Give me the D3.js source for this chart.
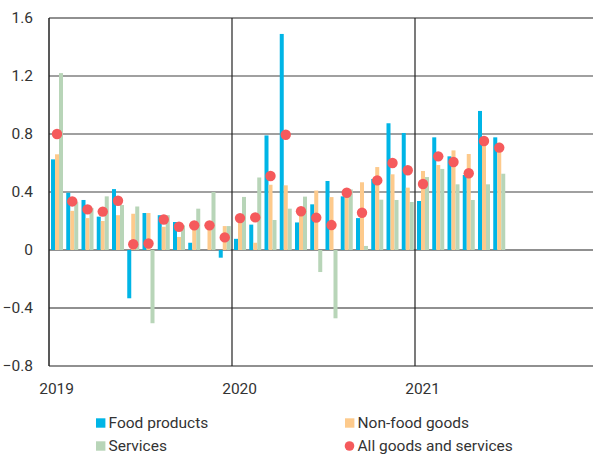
<!DOCTYPE html>
<html>
<head>
<meta charset="utf-8">
<script src="https://cdn.jsdelivr.net/npm/d3@7"></script>
<style>
  body { margin: 0; background: #fff; }
  text { font-family: "Roboto", sans-serif; fill: #333; }
</style>
</head>
<body>
<div id="chart"></div>
<script>
// monthly values, Jan 2019 .. Jun 2021
var months = ["2019-01","2019-02","2019-03","2019-04","2019-05","2019-06","2019-07","2019-08","2019-09","2019-10","2019-11","2019-12",
              "2020-01","2020-02","2020-03","2020-04","2020-05","2020-06","2020-07","2020-08","2020-09","2020-10","2020-11","2020-12",
              "2021-01","2021-02","2021-03","2021-04","2021-05","2021-06"];
var food = [0.625,0.395,0.345,0.23,0.42,-0.333,0.255,0.24,0.193,0.05,0.0,-0.053,
            0.077,0.175,0.79,1.49,0.19,0.315,0.476,0.37,0.22,0.49,0.874,0.807,
            0.338,0.777,0.646,0.517,0.959,0.777];
var nonFood = [0.66,0.27,0.22,0.20,0.24,0.25,0.255,0.16,0.09,0.15,0.17,0.165,
               0.20,0.05,0.45,0.446,0.27,0.41,0.365,0.38,0.467,0.572,0.522,0.43,
               0.545,0.586,0.687,0.662,0.72,0.74];
var services = [1.22,0.33,0.29,0.37,0.31,0.30,-0.505,0.24,0.17,0.285,0.40,0.165,
                0.366,0.50,0.207,0.285,0.368,-0.152,-0.471,0.418,0.028,0.347,0.345,0.331,
                0.503,0.559,0.453,0.345,0.453,0.526];
var allItems = [0.80,0.335,0.28,0.265,0.34,0.04,0.045,0.21,0.16,0.17,0.17,0.087,
                0.22,0.225,0.51,0.795,0.267,0.223,0.172,0.395,0.257,0.48,0.60,0.55,
                0.455,0.646,0.607,0.529,0.752,0.706];
var yTicks = [-0.8, -0.4, 0, 0.4, 0.8, 1.2, 1.6];
var years = ["2019", "2020", "2021"];

var width = 593, height = 454;
var plotLeft = 49, plotTop = 18, plotRight = 598, plotBottom = 366;

var svg = d3.select("#chart").append("svg")
    .attr("width", width)
    .attr("height", height);

// x axis runs over three full years, data only fills part of the last one
var allMonths = d3.range(36);
var x = d3.scaleBand().domain(allMonths).range([plotLeft, plotRight]).padding(0);
var sub = d3.scaleBand().domain(["food", "nonFood", "services"]).range([2, 14]);
var y = d3.scaleLinear().domain([-0.8, 1.6]).range([plotBottom, plotTop]);

var colors = { food: "#00b5e6", nonFood: "#fdca8c", services: "#b8d5b8", all: "#f55a5c" };

// horizontal gridlines
svg.append("g").selectAll("line")
    .data(yTicks)
    .enter().append("line")
        .attr("x1", plotLeft)
        .attr("x2", width)
        .attr("y1", function(d) { return y(d); })
        .attr("y2", function(d) { return y(d); })
        .style("stroke", function(d) { return d > 0 && d < 1.6 ? "#808080" : "#222"; })
        .style("stroke-width", function(d) { return d > 0 && d < 1.6 ? 1.6 : 1.2; });

// year separators
svg.append("g").selectAll("line")
    .data(years)
    .enter().append("line")
        .attr("x1", function(d, i) { return x(i * 12); })
        .attr("x2", function(d, i) { return x(i * 12); })
        .attr("y1", plotTop)
        .attr("y2", plotBottom)
        .style("stroke", "#222")
        .style("stroke-width", function(d, i) { return i == 0 ? 1.5 : 1.2; });

// y tick labels
svg.append("g").selectAll("text")
    .data(yTicks)
    .enter().append("text")
        .attr("x", 33)
        .attr("y", function(d) { return y(d); })
        .attr("dy", "0.35em")
        .attr("text-anchor", "end")
        .style("font-size", "15.5px")
        .text(function(d) { return d == 0 ? "0" : d3.format(".1f")(d); });

// year labels, centred under January
svg.append("g").selectAll("text")
    .data(years)
    .enter().append("text")
        .attr("x", function(d, i) { return x(i * 12) + x.bandwidth() / 2; })
        .attr("y", 389)
        .attr("dy", "0.35em")
        .attr("text-anchor", "middle")
        .style("font-size", "15.5px")
        .text(function(d) { return d; });

// bars
var series = [["food", food], ["nonFood", nonFood], ["services", services]];
series.forEach(function(s) {
    svg.append("g").selectAll("rect")
        .data(s[1])
        .enter().append("rect")
            .attr("x", function(d, i) { return x(i) + sub(s[0]); })
            .attr("width", sub.bandwidth())
            .attr("y", function(d) { return y(Math.max(0, d)); })
            .attr("height", function(d) { return Math.abs(y(d) - y(0)); })
            .style("fill", colors[s[0]]);
});

// all goods and services dots
svg.append("g").selectAll("circle")
    .data(allItems)
    .enter().append("circle")
        .attr("cx", function(d, i) { return x(i) + sub("nonFood") + sub.bandwidth() / 2; })
        .attr("cy", function(d) { return y(d); })
        .attr("r", 5.2)
        .style("fill", colors.all);

// legend
var legend = [
    { name: "Food products", key: "food", x: 96, y: 423, shape: "rect" },
    { name: "Non-food goods", key: "nonFood", x: 345, y: 423, shape: "rect" },
    { name: "Services", key: "services", x: 96, y: 446, shape: "rect" },
    { name: "All goods and services", key: "all", x: 345, y: 446, shape: "circle" }
];
var lg = svg.append("g").selectAll("g")
    .data(legend)
    .enter().append("g")
        .attr("transform", function(d) { return "translate(" + d.x + "," + d.y + ")"; });
lg.filter(function(d) { return d.shape == "rect"; }).append("rect")
    .attr("x", 0).attr("y", -4.7)
    .attr("width", 9.4).attr("height", 9.4)
    .style("fill", function(d) { return colors[d.key]; });
lg.filter(function(d) { return d.shape == "circle"; }).append("circle")
    .attr("cx", 4.5).attr("cy", 0).attr("r", 4.8)
    .style("fill", function(d) { return colors[d.key]; });
lg.append("text")
    .attr("x", 12.5)
    .attr("dy", "0.35em")
    .style("font-size", "15.5px")
    .text(function(d) { return d.name; });
</script>
</body>
</html>
